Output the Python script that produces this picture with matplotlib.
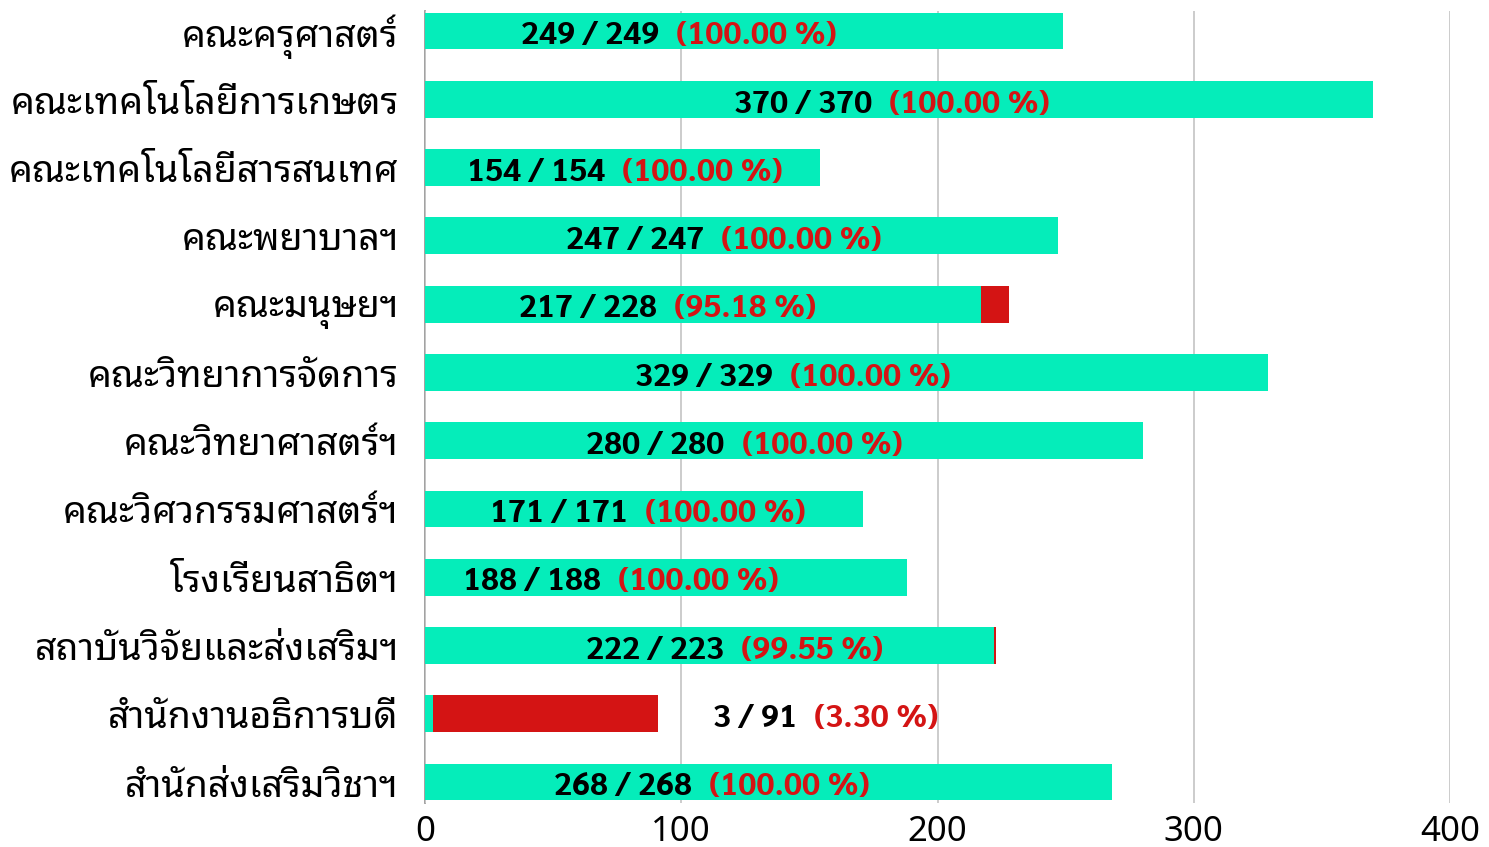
import matplotlib
matplotlib.use("Agg")
import matplotlib.pyplot as plt
import numpy as np

# หน่วยงาน / จำนวนที่ทำแล้ว / จำนวนทั้งหมด
units = ['คณะครุศาสตร์', 'คณะเทคโนโลยีการเกษตร', 'คณะเทคโนโลยีสารสนเทศ',
         'คณะพยาบาลฯ', 'คณะมนุษยฯ', 'คณะวิทยาการจัดการ', 'คณะวิทยาศาสตร์ฯ',
         'คณะวิศวกรรมศาสตร์ฯ', 'โรงเรียนสาธิตฯ', 'สถาบันวิจัยและส่งเสริมฯ',
         'สำนักงานอธิการบดี', 'สำนักส่งเสริมวิชาฯ']
done = [249, 370, 154, 247, 217, 329, 280, 171, 188, 222, 3, 268]
total = [249, 370, 154, 247, 228, 329, 280, 171, 188, 223, 91, 268]
xticks = [0, 100, 200, 300, 400]

# where the label sits (x of the gap between the two parts)
label_x = [94.4, 177.6, 73.4, 112, 93.7, 139, 120, 82.3, 71.8, 119.8, 148.3, 107.3]

green = '#05EDBA'
red = '#D41414'

done = np.array(done)
total = np.array(total)
rest = total - done
y = np.arange(len(units))

fig = plt.figure(figsize=(14.89, 8.47), dpi=100)
ax = fig.add_axes([425 / 1489, 0.0525, 1025 / 1489, 0.9351])

ax.barh(y, done, height=0.54, color=green, zorder=2)
ax.barh(y, rest, left=done, height=0.54, color=red, zorder=2)

for i in range(len(units)):
    pct = done[i] / total[i] * 100
    ax.annotate(f'{done[i]} / {total[i]}', (label_x[i], y[i]), xytext=(-8, -5),
                textcoords='offset pixels', ha='right', va='center',
                fontsize=23, fontweight='bold', color='black',
                family=['Sarabun', 'DejaVu Sans'], zorder=3)
    ax.annotate(f'({pct:.2f} %)', (label_x[i], y[i]), xytext=(9, -5),
                textcoords='offset pixels', ha='left', va='center',
                fontsize=23, fontweight='bold', color=red,
                family=['Sarabun', 'DejaVu Sans'], zorder=3)

ax.set_xlim(0, 400)
ax.set_ylim(11.3, -0.3)
ax.set_yticks(y)
ax.set_yticklabels(units, family=['Noto Sans Thai Looped', 'DejaVu Sans'], fontsize=27)
ax.set_xticks(xticks)
ax.set_xticklabels([str(t) for t in xticks], family=['Noto Sans Thai', 'DejaVu Sans'],
                   fontsize=25, fontweight='light')
ax.tick_params(axis='both', length=0)
ax.tick_params(axis='y', pad=19)
ax.tick_params(axis='x', pad=9)

ax.grid(axis='x', color='#c8c8c8', linewidth=1.3, zorder=0)
for s in ['top', 'right', 'bottom']:
    ax.spines[s].set_visible(False)
ax.spines['left'].set_color('#999999')
ax.spines['left'].set_linewidth(1.3)
ax.spines['left'].set_zorder(1)

fig.savefig('out.png', dpi=100)
